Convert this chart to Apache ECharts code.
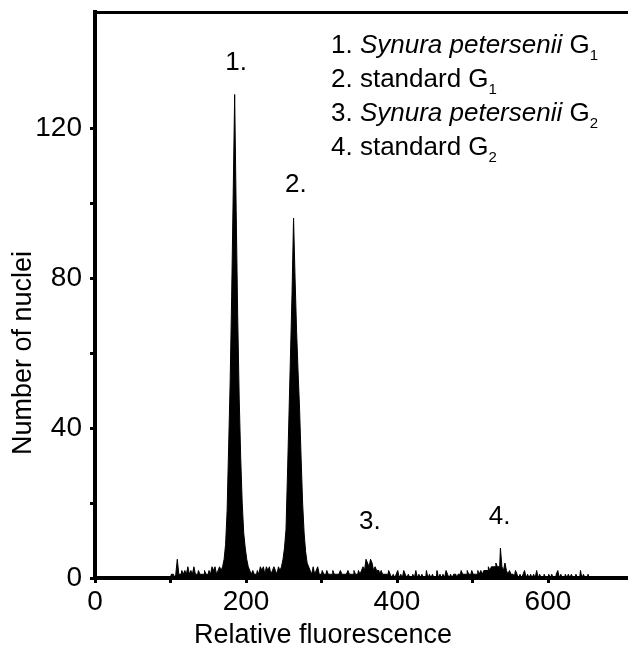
<!DOCTYPE html>
<html><head><meta charset="utf-8">
<script src="https://cdn.jsdelivr.net/npm/echarts@6/dist/echarts.min.js"></script>
<style>html,body{margin:0;padding:0;background:#fff}#c{width:628px;height:650px}</style>
</head><body><div id="c"></div>
<script>
// Histogram bins: first bin centre and bin width (relative fluorescence units)
const binStart = 100, binWidth = 2;
// Counts (number of nuclei) per bin, left to right
const noiseLow  = [0,1,1,0,1,5,1,1,2,1,2,1,3,1,2,1,3,1,1,2,1,1,1,2,1,1,2,1,3,2,3,1,2,3,2]; // 100-168
const peak1     = [3,5,9,18,35,52,75,102,129,98,70,48,32,20,12,8,5,3,2];                   // 170-206
const noiseMid  = [1,2,1,1,2,1,3,2,3,1,3,2,3,1,2,3,2,1,3,2];                                // 208-246
const peak2     = [3,5,8,13,28,44,60,76,96,80,66,55,45,32,20,12,7,4,3];                     // 248-284
const noiseHigh = [2,1,3,1,2,3,1,1,2,1,1,2,1,1,1,2,1,1,1,1,2,1,1,1,1,2,1,1,1,2,1,1,2];       // 286-350
const peak3     = [1,2,3,2,5,4,3,5,4,2,3,2,2,1,2,1,1];                                      // 352-384
const noiseG2   = [1,0,2,1,0,1,0,1,2,0, 1,0,2,1,0,1,0,0,1,0, 2,0,1,0,1,0,0,2,0,1,
                   0,1,0,0,2,0,1,0,1,0, 2,1,0,1,0,1,1,0,1,1, 2,1,1,1,2,1,1,2,1,1, 1,2];     // 386-508
const peak4     = [1,2,1,2,2,2,3,2,3,3,3,4,3,3,8,3,2,4,2,1,2,1];                            // 510-552
const noiseTail = [1,0,2,1,0,1,0,1,2,0, 1,0,1,0,1,0,2,0,1,0, 0,1,0,0,1,0,1,0,0,1,
                   2,0,1,0,0,1,0,1,0,1, 0,0,1,0,0,2,0,1,0,0, 1,0,0,0,0,0,0,0,0,0,
                   0,0,0,0,0,0,0,0,0,0, 0,0,0,0];                                          // 554-700

// Axis ticks and labels
const xTicks = [0,100,200,300,400,500,600];
const xTickLabels = [0,200,400,600];
const yTicks = [0,20,40,60,80,100,120];
const yTickLabels = [0,40,80,120];
const xName = 'Relative fluorescence';
const yName = 'Number of nuclei';

// Peak annotations (data coordinates)
const peakLabels = ['1.','2.','3.','4.'];
const peakLabelX = [187,266,364,536];
const peakLabelY = [137.5,105,15,16.3];

// Key text
const keyNumbers = ['1.','2.','3.','4.'];
const keyNames = ['Synura petersenii','standard','Synura petersenii','standard'];
const keyItalic = [true,false,true,false];
const keySubscripts = ['1','1','2','2'];

const counts = [].concat(noiseLow, peak1, noiseMid, peak2, noiseHigh, peak3, noiseG2, peak4, noiseTail);
const histData = counts.map((c, i) => [binStart + i * binWidth, c]);

const keyText = keyNumbers.map((n, i) =>
  '{n|' + n + ' }' + (keyItalic[i] ? '{i|' + keyNames[i] + '}' : '{n|' + keyNames[i] + '}') +
  '{n| G}{s|' + keySubscripts[i] + '}').join('\n');

const FONT = '"Liberation Sans", Arial, sans-serif';

const chart = echarts.init(document.getElementById('c'), null, {renderer: 'canvas'});
chart.setOption({
  animation: false,
  backgroundColor: '#fff',
  title: {
    left: 331, top: 29, padding: 0,
    text: keyText,
    textStyle: {
      fontWeight: 'normal',
      rich: {
        n: {fontFamily: FONT, fontSize: 26, fontWeight: 'normal', color: '#000', lineHeight: 34},
        i: {fontFamily: FONT, fontSize: 26, fontWeight: 'normal', fontStyle: 'italic', color: '#000', lineHeight: 34},
        s: {fontFamily: FONT, fontSize: 15, fontWeight: 'normal', color: '#000', lineHeight: 10, verticalAlign: 'bottom'}
      }
    }
  },
  grid: {left: 95, right: 0, top: 12, bottom: 72, containLabel: false, outerBoundsMode: 'none'},
  xAxis: [{
    type: 'value', min: 0, max: 706,
    name: xName, nameLocation: 'middle', nameGap: 44, nameMoveOverlap: false,
    nameTextStyle: {fontFamily: FONT, fontSize: 27, color: '#000', padding: [0, 77, 0, 0]},
    axisLine: {show: true, onZero: false, lineStyle: {color: '#000', width: 4, cap: 'square'}},
    axisTick: {show: true, customValues: xTicks, length: 5, lineStyle: {color: '#000', width: 3}},
    axisLabel: {customValues: xTickLabels, margin: 10, fontFamily: FONT, fontSize: 28, color: '#000'},
    splitLine: {show: false}
  }, {
    type: 'value', min: 0, max: 706, position: 'top',
    axisLine: {show: true, onZero: false, lineStyle: {color: '#000', width: 3, cap: 'square'}},
    axisTick: {show: false}, axisLabel: {show: false}, splitLine: {show: false}
  }],
  yAxis: {
    type: 'value', min: 0, max: 151,
    name: yName, nameLocation: 'middle', nameGap: 58, nameRotate: 90, nameMoveOverlap: false,
    nameTextStyle: {fontFamily: FONT, fontSize: 27, color: '#000', padding: [0, 116, 0, 0]},
    axisLine: {show: true, onZero: false, lineStyle: {color: '#000', width: 4, cap: 'square'}},
    axisTick: {show: true, customValues: yTicks, length: 5, lineStyle: {color: '#000', width: 3}},
    axisLabel: {customValues: yTickLabels, margin: 13, fontFamily: FONT, fontSize: 28, color: '#000'},
    splitLine: {show: false}
  },
  series: [{
    type: 'line', data: histData, step: 'middle', symbol: 'none',
    lineStyle: {color: '#000', width: 1},
    areaStyle: {color: '#000', opacity: 1},
    z: 1
  }, {
    type: 'scatter', symbolSize: 0,
    itemStyle: {opacity: 1, color: '#000'},
    data: peakLabels.map((t, i) => ({name: t, value: [peakLabelX[i], peakLabelY[i]]})),
    label: {show: true, position: 'inside', formatter: p => p.name,
            fontFamily: FONT, fontSize: 26, color: '#000', opacity: 1},
    silent: true, z: 5
  }]
});
</script></body></html>
